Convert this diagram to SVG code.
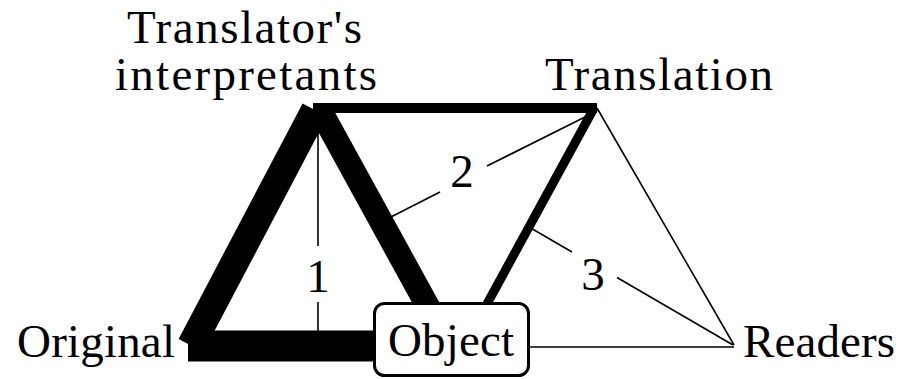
<svg xmlns="http://www.w3.org/2000/svg" width="902" height="379" viewBox="0 0 902 379">
<style>
text{font-family:"Liberation Serif","Times New Roman",serif;font-size:47px;fill:#000}
.thin{stroke:#000;stroke-width:1.6;fill:none}
.thick{stroke:#000;fill:none;stroke-linecap:butt}
.lbl{text-anchor:middle}
</style>
<rect width="902" height="379" fill="#fff"/>
<g id="connectors">
<line class="thin" x1="318" y1="112" x2="318" y2="246"/>
<line class="thin" x1="318" y1="302" x2="318" y2="332"/>
<text class="lbl" x="318" y="292">1</text>
<line class="thin" x1="589" y1="115" x2="487" y2="166"/>
<line class="thin" x1="440" y1="192" x2="385" y2="220"/>
<text class="lbl" x="462" y="187">2</text>
<line class="thin" x1="529" y1="227" x2="572" y2="252"/>
<line class="thin" x1="617" y1="277.5" x2="733" y2="345"/>
<text class="lbl" x="593" y="290">3</text>
<line class="thin" x1="597" y1="108" x2="734" y2="345"/>
<line class="thin" x1="525" y1="347" x2="734" y2="347"/>
<line class="thick" x1="313" y1="108" x2="597" y2="108" stroke-width="10"/>
<line class="thick" x1="594" y1="108" x2="470" y2="335" stroke-width="9"/>
<line class="thick" x1="320" y1="110" x2="432" y2="314" stroke-width="24"/>
<line class="thick" x1="315" y1="110" x2="191" y2="345.5" stroke-width="28"/>
<line class="thick" x1="188" y1="346" x2="385" y2="346" stroke-width="31"/>
</g>
<g id="interpretants">
<text x="127" y="43" textLength="235" lengthAdjust="spacing">Translator's</text>
<text x="115" y="90" textLength="262" lengthAdjust="spacing">interpretants</text>
</g>
<g id="translation">
<text x="545" y="90" textLength="228" lengthAdjust="spacing">Translation</text>
</g>
<g id="original">
<text x="17" y="357" textLength="158" lengthAdjust="spacing">Original</text>
</g>
<g id="readers">
<text x="743" y="357" textLength="152" lengthAdjust="spacing">Readers</text>
</g>
<g id="object">
<rect x="374.5" y="303.5" width="154" height="72" rx="10" ry="10" fill="#fff" stroke="#000" stroke-width="3"/>
<text x="388" y="356" textLength="126" lengthAdjust="spacing">Object</text>
</g>
</svg>
